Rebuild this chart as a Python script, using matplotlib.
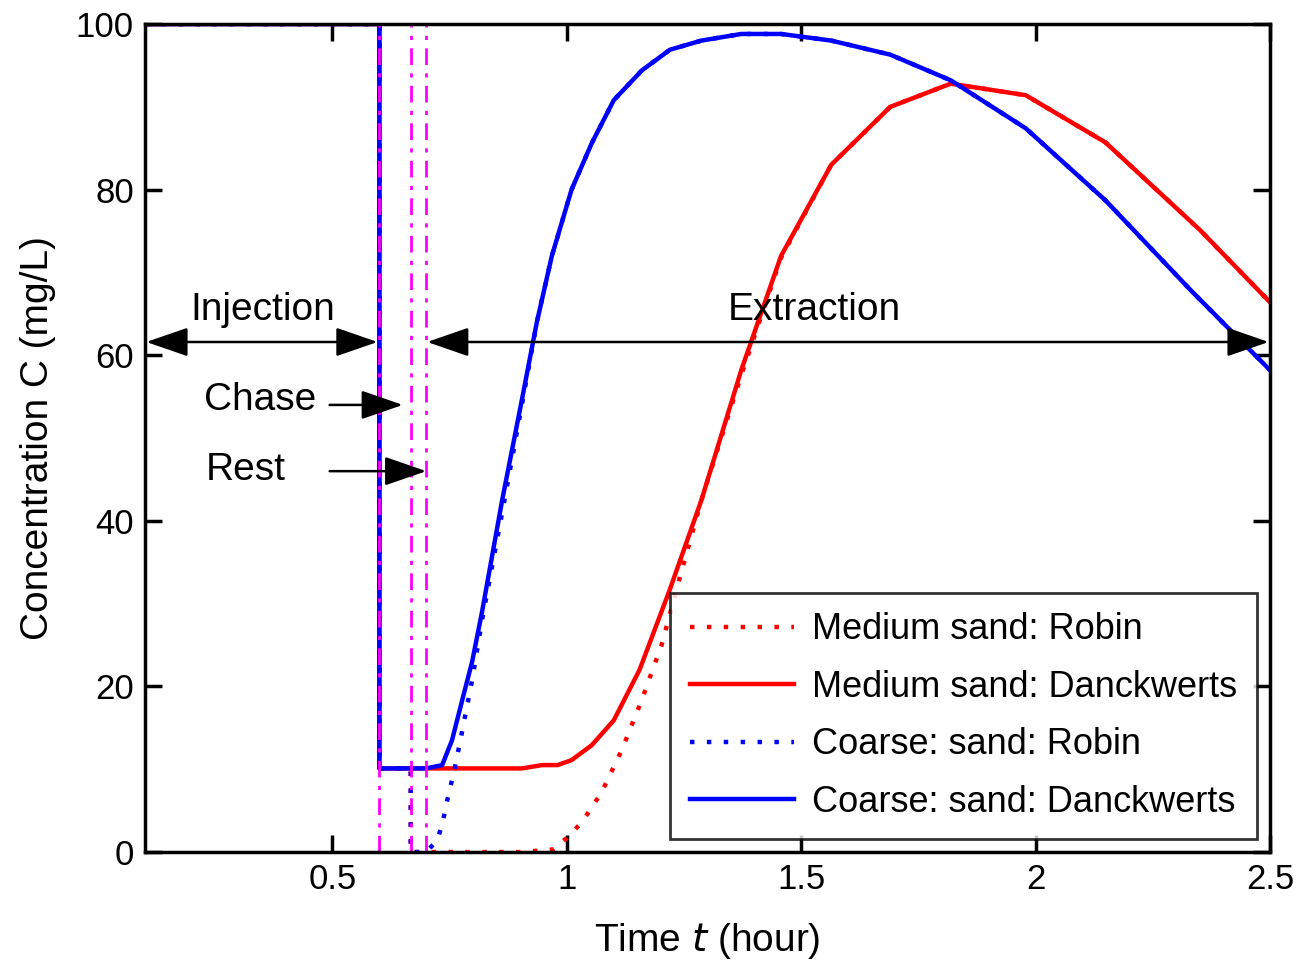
import numpy as np
import matplotlib

matplotlib.use("Agg")
import matplotlib.pyplot as plt

plt.rcParams["font.family"] = ["Liberation Sans Narrow", "Liberation Sans", "DejaVu Sans"]

# Medium sand, Danckwerts boundary
med_dk_t = [0.1, 0.6, 0.6, 0.70, 0.80, 0.904, 0.947, 0.98, 1.01, 1.053, 1.10, 1.155,
            1.219, 1.287, 1.372, 1.457, 1.564, 1.69, 1.819, 1.979, 2.149, 2.351, 2.5]
med_dk_c = [100, 100, 10.1, 10.1, 10.1, 10.1, 10.5, 10.5, 11.1, 12.9, 15.9, 22.0,
            31.6, 42.5, 58.2, 72.0, 83.0, 90.0, 92.8, 91.4, 85.7, 75.1, 66.4]

# Medium sand, Robin boundary
med_rb_t = [0.1, 0.6, 0.6, 0.667, 0.667, 0.70, 0.80, 0.90, 0.97, 1.0, 1.032, 1.074,
            1.117, 1.16, 1.202, 1.245, 1.287, 1.372, 1.457, 1.564, 1.69, 1.819,
            1.979, 2.149, 2.351, 2.5]
med_rb_c = [100, 100, 10.1, 10.1, 0, 0, 0, 0, 0.3, 1.7, 3.6, 7.2,
            12.3, 18.4, 25.0, 34.0, 42.5, 57.6, 71.8, 83.0, 90.0, 92.8,
            91.4, 85.7, 75.1, 66.4]

# Coarse sand, Danckwerts boundary
crs_dk_t = [0.1, 0.6, 0.6, 0.70, 0.734, 0.755, 0.777, 0.798, 0.819, 0.862, 0.904,
            0.936, 0.968, 1.01, 1.053, 1.10, 1.16, 1.22, 1.287, 1.372, 1.457, 1.564,
            1.69, 1.819, 1.979, 2.149, 2.33, 2.5]
crs_dk_c = [100, 100, 10.1, 10.1, 10.5, 13.5, 18.4, 23.0, 29.0, 42.5, 54.6,
            64.0, 72.0, 80.0, 85.6, 90.8, 94.4, 96.9, 98.0, 98.8, 98.8, 98.0,
            96.3, 93.2, 87.4, 78.7, 67.9, 58.2]

# Coarse sand, Robin boundary
crs_rb_t = [0.1, 0.6, 0.6, 0.667, 0.667, 0.70, 0.723, 0.734, 0.745, 0.760, 0.777,
            0.798, 0.819, 0.862, 0.904, 0.936, 0.968, 1.01, 1.053, 1.10, 1.16, 1.22,
            1.287, 1.372, 1.457, 1.564, 1.69, 1.819, 1.979, 2.149, 2.33, 2.5]
crs_rb_c = [100, 100, 10.1, 10.1, 0, 0, 1.4, 3.3, 6.3, 9.9, 14.7,
            20.8, 28.0, 41.0, 54.0, 64.0, 72.0, 80.0, 85.6, 90.8, 94.4, 96.9,
            98.0, 98.8, 98.8, 98.0, 96.3, 93.2, 87.4, 78.7, 67.9, 58.2]

# stage boundaries (hour)
stage_t = [0.6, 2.0 / 3.0, 0.7]

x_ticks = [0.5, 1, 1.5, 2, 2.5]
x_ticklabels = ["0.5", "1", "1.5", "2", "2.5"]
y_ticks = [0, 20, 40, 60, 80, 100]


def main():
    fig = plt.figure(figsize=(13.12, 9.69), dpi=100)
    ax = fig.add_axes([0.1105, 0.1207, 0.8575, 0.8545])

    dot = (0, (1, 2.8))
    lw = 3.2
    ax.plot(med_rb_t, med_rb_c, color="red", lw=lw, ls=dot, label="Medium sand: Robin")
    ax.plot(med_dk_t, med_dk_c, color="red", lw=lw, label="Medium sand: Danckwerts")
    ax.plot(crs_rb_t, crs_rb_c, color="blue", lw=lw, ls=dot, label="Coarse: sand: Robin")
    ax.plot(crs_dk_t, crs_dk_c, color="blue", lw=lw, label="Coarse: sand: Danckwerts")

    for t in stage_t:
        ax.plot([t, t], [0, 100], color="magenta", lw=2, ls="-.", dashes=(6, 3, 1.5, 3))

    ax.set_xlim(0.1, 2.5)
    ax.set_ylim(0, 100)
    ax.set_xticks(x_ticks)
    ax.set_xticklabels(x_ticklabels)
    ax.set_yticks(y_ticks)
    ax.tick_params(direction="in", length=12, width=2.5, labelsize=25, top=True, right=True, pad=8)
    for s in ax.spines.values():
        s.set_linewidth(2.5)

    ax.set_xlabel("Time $\\it{t}$ (hour)", fontsize=28, labelpad=18)
    ax.set_ylabel("Concentration C (mg/L)", fontsize=28, labelpad=14)

    arr = dict(arrowstyle="<|-|>,head_length=2.6,head_width=0.9", color="black", lw=1.8,
               shrinkA=0, shrinkB=0)
    arr1 = dict(arrowstyle="-|>,head_length=2.6,head_width=0.9", color="black", lw=1.8,
                shrinkA=0, shrinkB=0)
    ax.annotate("", xy=(0.103, 61.6), xytext=(0.596, 61.6), arrowprops=arr)
    ax.annotate("", xy=(0.702, 61.6), xytext=(2.497, 61.6), arrowprops=arr)
    ax.annotate("", xy=(0.65, 54.0), xytext=(0.494, 54.0), arrowprops=arr1)
    ax.annotate("", xy=(0.70, 46.0), xytext=(0.494, 46.0), arrowprops=arr1)

    ax.text(0.351, 65.5, "Injection", fontsize=28, ha="center", va="center")
    ax.text(1.528, 65.5, "Extraction", fontsize=28, ha="center", va="center")
    ax.text(0.345, 54.6, "Chase", fontsize=28, ha="center", va="center")
    ax.text(0.315, 46.2, "Rest", fontsize=28, ha="center", va="center")

    leg = ax.legend(loc="lower right", fontsize=26, frameon=True, fancybox=False,
                    handlelength=2.9, borderaxespad=0.35, labelspacing=0.62,
                    handletextpad=0.5, borderpad=0.55)
    leg.get_frame().set_edgecolor("black")
    leg.get_frame().set_linewidth(2)

    fig.savefig("out.png", dpi=100)
    plt.close(fig)


if __name__ == "__main__":
    main()
